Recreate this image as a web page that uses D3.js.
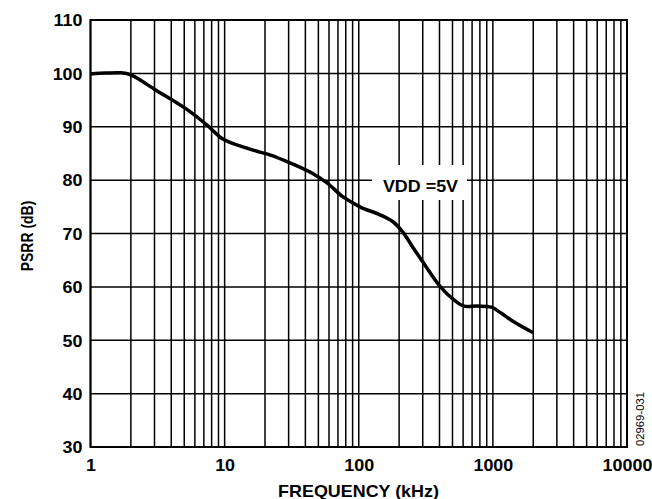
<!DOCTYPE html>
<html>
<head>
<meta charset="utf-8">
<script src="https://cdn.jsdelivr.net/npm/d3@7"></script>
<style>
  html, body { margin: 0; padding: 0; background: #fff; }
  svg { display: block; }
  text { font-family: "Liberation Sans", Arial, sans-serif; }
</style>
</head>
<body>
<svg id="chart" width="652" height="499"></svg>
<script>
// Data
const freqKHz = [1, 1.3, 1.7, 2, 3.1, 5.2, 7.4, 9.7, 13, 18, 22, 31, 45, 58, 76, 102, 144, 180, 211, 255, 300, 407, 510, 610, 760, 975, 1150, 1420, 2000];
const psrrDb  = [99.9, 100.05, 100.1, 99.7, 96.8, 93.3, 90.3, 87.7, 86.4, 85.3, 84.7, 83.2, 81.3, 79.5, 76.9, 75, 73.5, 72.2, 70.4, 67.3, 64.7, 60, 57.6, 56.4, 56.4, 56.2, 55.1, 53.5, 51.4];
const xTickLabels = [1, 10, 100, 1000, 10000];
const yTickLabels = [30, 40, 50, 60, 70, 80, 90, 100, 110];
const seriesLabel = "VDD =5V";
const xTitle = "FREQUENCY (kHz)";
const yTitle = "PSRR (dB)";
const figId = "02969-031";

const L = 90.5, R = 627, T = 20, B = 447;
const svg = d3.select("#chart");
const x = d3.scaleLog().domain([1, 10000]).range([L, R]);
const y = d3.scaleLinear().domain([30, 110]).range([B, T]);
const SX = 1.12;

// minor grid values
const vGrid = [];
for (let e = 0; e < 4; e++) for (let m = 1; m <= 9; m++) vGrid.push(m * Math.pow(10, e));
vGrid.push(10000);

const g = svg.append("g");
g.selectAll("line.v").data(vGrid).enter().append("line")
  .attr("x1", d => x(d)).attr("x2", d => x(d))
  .attr("y1", T).attr("y2", B)
  .attr("stroke", "#000").attr("stroke-width", 1.5);
g.selectAll("line.h").data(yTickLabels).enter().append("line")
  .attr("x1", L).attr("x2", R)
  .attr("y1", d => y(d)).attr("y2", d => y(d))
  .attr("stroke", "#000").attr("stroke-width", 1.5);

// curve
const line = d3.line().x(d => x(d[0])).y(d => y(d[1])).curve(d3.curveCatmullRom.alpha(0.5));
svg.append("path").datum(freqKHz.map((f, i) => [f, psrrDb[i]]))
  .attr("d", line).attr("fill", "none").attr("stroke", "#000")
  .attr("stroke-width", 3.5).attr("stroke-linejoin", "round");

// frame
svg.append("rect").attr("x", L).attr("y", T).attr("width", R - L).attr("height", B - T)
  .attr("fill", "none").attr("stroke", "#000").attr("stroke-width", 2);

// label with white box
svg.append("rect").attr("x", 372).attr("y", 165).attr("width", 95).attr("height", 35).attr("fill", "#fff");
svg.append("text").attr("transform", `translate(420.5,192) scale(${SX},1)`)
  .attr("text-anchor", "middle").attr("font-size", 16).attr("font-weight", "bold").text(seriesLabel);

// axes
const xAxis = d3.axisBottom(x).tickValues(xTickLabels).tickFormat(d3.format("d")).tickSize(0).tickPadding(0);
const gx = svg.append("g").attr("transform", `translate(0,${B})`).call(xAxis);
gx.select(".domain").remove();
gx.selectAll("text").attr("y", 0).attr("dy", 0)
  .attr("transform", `translate(0,24) scale(${SX},1)`)
  .attr("font-size", 16).attr("font-weight", "bold").attr("fill", "#000")
  .attr("font-family", "Liberation Sans, Arial, sans-serif");

const yAxis = d3.axisLeft(y).tickValues(yTickLabels).tickFormat(d3.format("d")).tickSize(0).tickPadding(0);
const gy = svg.append("g").attr("transform", `translate(${L},0)`).call(yAxis);
gy.select(".domain").remove();
gy.selectAll("text").attr("x", 0).attr("dy", 0)
  .attr("transform", `translate(-8,5.8) scale(${SX},1)`)
  .attr("font-size", 16).attr("font-weight", "bold").attr("fill", "#000")
  .attr("font-family", "Liberation Sans, Arial, sans-serif");

// titles
svg.append("text").attr("transform", `translate(358.5,496.5) scale(${SX},1)`)
  .attr("text-anchor", "middle").attr("font-size", 16).attr("font-weight", "bold").text(xTitle);
svg.append("text").attr("transform", `translate(32.5,236) rotate(-90) scale(1,1.15)`)
  .attr("text-anchor", "middle").attr("font-size", 14).attr("font-weight", "bold").text(yTitle);
svg.append("text").attr("transform", `translate(644,419) rotate(-90)`)
  .attr("text-anchor", "middle").attr("font-size", 11.3).text(figId);
</script>
</body>
</html>
